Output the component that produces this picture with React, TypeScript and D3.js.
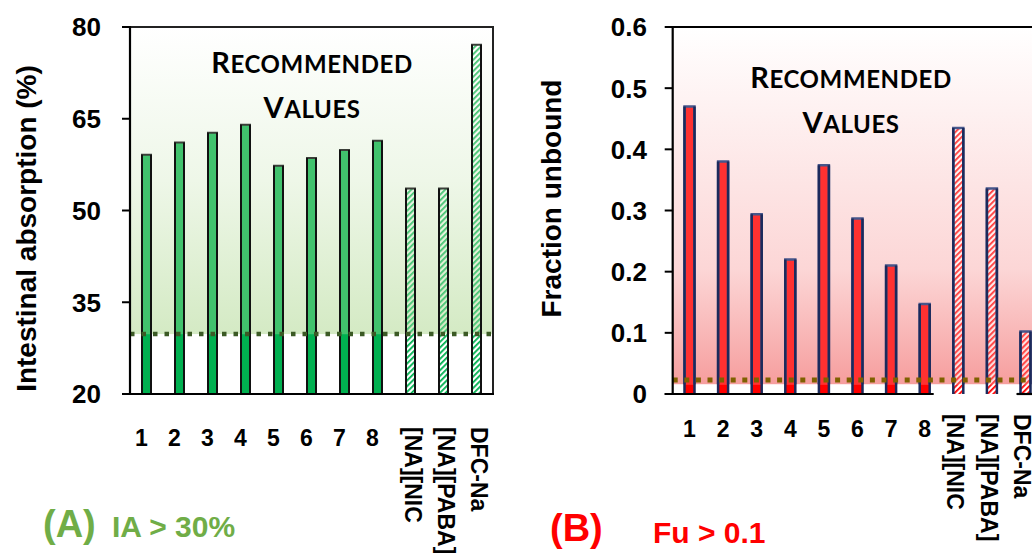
import React from 'react';
import * as d3 from 'd3';

const categories = ['1', '2', '3', '4', '5', '6', '7', '8', '[NA][NIC', '[NA][PABA]', 'DFC-Na'];
const referenceDrugs = ['[NA][NIC', '[NA][PABA]', 'DFC-Na'];
const iaValues = [59.1, 61.1, 62.7, 64.0, 57.3, 58.6, 59.9, 61.4, 53.6, 53.6, 77.1];
const fuValues = [0.47, 0.38, 0.294, 0.22, 0.374, 0.287, 0.21, 0.147, 0.435, 0.336, 0.102];
const iaTicks = [20, 35, 50, 65, 80];
const fuTicks = [0, 0.1, 0.2, 0.3, 0.4, 0.5, 0.6];
const iaThreshold = 29.8;
const fuThreshold = 0.023;
const fuBandBottom = 0.016;

const ARIAL = "'Liberation Sans', Arial, sans-serif";
const CAL = "Lato, 'Open Sans', sans-serif";

function Recommended({ cx, y1, y2 }: { cx: number; y1: number; y2: number }) {
  return (
    <g fontFamily={CAL} fontWeight={700} fill="#000" textAnchor="middle">
      <text x={cx} y={y1} letterSpacing={0.6}>
        <tspan fontSize={29}>R</tspan>
        <tspan fontSize={24}>ECOMMENDED</tspan>
      </text>
      <text x={cx} y={y2} letterSpacing={0.6}>
        <tspan fontSize={29}>V</tspan>
        <tspan fontSize={24}>ALUES</tspan>
      </text>
    </g>
  );
}

function BarOutline({ x, w, yTop, ySplit, yBase, upper, lower, sw }: any) {
  const top = Math.min(yTop, ySplit);
  return (
    <g fill="none" strokeWidth={sw}>
      {yTop < ySplit && (
        <path d={`M${x},${ySplit}V${yTop}H${x + w}V${ySplit}`} stroke={upper} strokeLinejoin="miter" />
      )}
      <path d={`M${x},${top}V${yBase}M${x + w},${top}V${yBase}`} stroke={lower} />
    </g>
  );
}

export default function App() {
  // Panel A
  const aLeft = 130, aRight = 493, aTop = 27, aBottom = 394;
  const xA = d3.scaleBand<string>().domain(categories).range([aLeft, aRight]).padding(0);
  const yA = d3.scaleLinear().domain([20, 80]).range([aBottom, aTop]);
  const bwA = 9;
  const yThrA = yA(iaThreshold);

  // Panel B
  const bLeft = 672.7, bTop = 27, bBottom = 394;
  const stepB = 33.6;
  const xB = d3.scaleBand<string>().domain(categories).range([bLeft, bLeft + stepB * categories.length]).padding(0);
  const yB = d3.scaleLinear().domain([0, 0.6]).range([bBottom, bTop]);
  const bwB = 10;
  const yRegB = yB(fuBandBottom);
  const yThrB = yB(fuThreshold);

  const isRef = (c: string) => referenceDrugs.includes(c);

  const bar8 = categories[7];
  const bar11 = categories[10];
  const axisSeg1End = (xB(bar8) as number) + xB.bandwidth() / 2 + bwB / 2 + 4;
  const axisSeg2Start = (xB(bar11) as number) + xB.bandwidth() / 2 - bwB / 2 - 4;

  return (
    <svg width={1032} height={553} style={{ position: 'absolute', left: 0, top: 0, display: 'block', background: '#fff' }}>
      <defs>
        <linearGradient id="gradA" x1="0" y1={aTop} x2="0" y2={yThrA} gradientUnits="userSpaceOnUse">
          <stop offset="0" stopColor="#ffffff" />
          <stop offset="0.5" stopColor="#eef7e8" />
          <stop offset="1" stopColor="#d4eac4" />
        </linearGradient>
        <linearGradient id="gradB" x1="0" y1={bTop} x2="0" y2={yRegB} gradientUnits="userSpaceOnUse">
          <stop offset="0" stopColor="#ffffff" />
          <stop offset="0.68" stopColor="#fcd6d6" />
          <stop offset="1" stopColor="#f69e9e" />
        </linearGradient>
        <pattern id="hatchAUp" width="4" height="4" patternUnits="userSpaceOnUse" patternTransform="rotate(45)">
          <rect x="0" y="0" width="1.8" height="4" fill="#45c474" />
        </pattern>
        <pattern id="hatchALo" width="4" height="4" patternUnits="userSpaceOnUse" patternTransform="rotate(45)">
          <rect x="0" y="0" width="4" height="4" fill="#ffffff" />
          <rect x="0" y="0" width="1.8" height="4" fill="#00b050" />
        </pattern>
        <pattern id="hatchBUp" width="4" height="4" patternUnits="userSpaceOnUse" patternTransform="rotate(45)">
          <rect x="0" y="0" width="4" height="4" fill="#ffffff" fillOpacity="0.6" />
          <rect x="0" y="0" width="1.8" height="4" fill="#ff3b3b" />
        </pattern>
        <pattern id="hatchBLo" width="4" height="4" patternUnits="userSpaceOnUse" patternTransform="rotate(45)">
          <rect x="0" y="0" width="4" height="4" fill="#ffffff" />
          <rect x="0" y="0" width="1.8" height="4" fill="#ff0000" />
        </pattern>
        <clipPath id="clipAll">
          <rect x={0} y={0} width={1032} height={553} />
        </clipPath>
      </defs>

      {/* ---------- Panel A ---------- */}
      <rect x={aLeft} y={aTop} width={aRight - aLeft} height={yThrA - aTop} fill="url(#gradA)" />

      {categories.map((c, i) => {
        const cx = (xA(c) as number) + xA.bandwidth() / 2;
        const x = cx - bwA / 2;
        const yt = yA(iaValues[i]);
        const ref = isRef(c);
        return (
          <g key={'a' + c}>
            <rect x={x} y={yt} width={bwA} height={yThrA - yt} fill={ref ? 'url(#hatchAUp)' : '#41c26d'} />
            <rect x={x} y={yThrA} width={bwA} height={aBottom - yThrA} fill={ref ? 'url(#hatchALo)' : '#00b050'} />
            <BarOutline x={x} w={bwA} yTop={yt} ySplit={yThrA} yBase={aBottom} upper="#3a3f38" lower="#111" sw={2} />
          </g>
        );
      })}

      <line x1={aLeft} x2={aRight} y1={yThrA} y2={yThrA} stroke="#3b5a25" strokeWidth={4.5} strokeDasharray="4.5 7" />

      {/* frame A */}
      <path d={`M${aLeft},${aTop}H${aRight}V${aBottom}`} fill="none" stroke="#222" strokeWidth={2} />
      <line x1={aLeft} x2={aLeft} y1={aTop - 1} y2={aBottom + 1} stroke="#000" strokeWidth={2.2} />
      <line x1={aLeft - 8} x2={aRight + 1} y1={aBottom} y2={aBottom} stroke="#000" strokeWidth={2.2} />
      {iaTicks.map((t) => (
        <g key={'ta' + t}>
          <line x1={aLeft - 8} x2={aLeft} y1={yA(t)} y2={yA(t)} stroke="#000" strokeWidth={2} />
          <text x={101} y={yA(t)} dy="0.36em" textAnchor="end" fontFamily={ARIAL} fontWeight={700} fontSize={26}>
            {t}
          </text>
        </g>
      ))}
      <text
        transform={`translate(36, ${(aTop + aBottom) / 2 + 18}) rotate(-90)`}
        textAnchor="middle"
        fontFamily={ARIAL}
        fontWeight={700}
        fontSize={28}
      >
        Intestinal absorption (%)
      </text>

      {categories.map((c) => {
        const cx = (xA(c) as number) + xA.bandwidth() / 2;
        if (isRef(c)) {
          return (
            <text
              key={'la' + c}
              transform={`translate(${cx + 3}, 427) rotate(90)`}
              dy="0.35em"
              textAnchor="start"
              fontFamily={ARIAL}
              fontWeight={700}
              fontSize={23}
            >
              {c}
            </text>
          );
        }
        return (
          <text key={'la' + c} x={cx - 5} y={446} textAnchor="middle" fontFamily={ARIAL} fontWeight={700} fontSize={23}>
            {c}
          </text>
        );
      })}

      <Recommended cx={312} y1={72.7} y2={118} />

      <text x={43} y={537} fontFamily={ARIAL} fontWeight={700} fontSize={38} fill="#70ad47">
        (A)
      </text>
      <text x={112} y={537} fontFamily={ARIAL} fontWeight={700} fontSize={30} fill="#70ad47">
        {'IA > 30%'}
      </text>

      {/* ---------- Panel B ---------- */}
      <g clipPath="url(#clipAll)">
        <rect x={bLeft} y={bTop} width={1032 - bLeft} height={yRegB - bTop} fill="url(#gradB)" />

        {categories.map((c, i) => {
          const cx = (xB(c) as number) + xB.bandwidth() / 2;
          const x = cx - bwB / 2;
          const yt = yB(fuValues[i]);
          const ref = isRef(c);
          return (
            <g key={'b' + c}>
              <rect x={x} y={yt} width={bwB} height={yRegB - yt} fill={ref ? 'url(#hatchBUp)' : '#ff3131'} />
              <rect x={x} y={yRegB} width={bwB} height={bBottom - yRegB} fill={ref ? 'url(#hatchBLo)' : '#ff0000'} />
              <BarOutline x={x} w={bwB} yTop={yt} ySplit={yRegB} yBase={bBottom} upper="#47568a" lower="#1b2a5c" sw={2.5} />
            </g>
          );
        })}

        <line x1={bLeft} x2={1032} y1={yThrB} y2={yThrB} stroke="#7f6000" strokeWidth={5} strokeDasharray="5 6.6" />

        <line x1={bLeft} x2={1040} y1={bTop} y2={bTop} stroke="#000" strokeWidth={2} />
        <line x1={bLeft} x2={bLeft} y1={bTop - 1} y2={bBottom + 1} stroke="#000" strokeWidth={2.2} />
        <line x1={bLeft - 8} x2={axisSeg1End} y1={bBottom} y2={bBottom} stroke="#000" strokeWidth={2.2} />
        <line x1={axisSeg2Start} x2={1040} y1={bBottom} y2={bBottom} stroke="#000" strokeWidth={2.2} />
        {fuTicks.map((t) => (
          <g key={'tb' + t}>
            <line x1={bLeft - 8} x2={bLeft} y1={yB(t)} y2={yB(t)} stroke="#000" strokeWidth={2} />
            <text x={647} y={yB(t)} dy="0.36em" textAnchor="end" fontFamily={ARIAL} fontWeight={700} fontSize={26}>
              {t === 0 ? '0' : d3.format('.1f')(t)}
            </text>
          </g>
        ))}
        <text
          transform={`translate(561, ${(bTop + bBottom) / 2 - 12}) rotate(-90)`}
          textAnchor="middle"
          fontFamily={ARIAL}
          fontWeight={700}
          fontSize={28}
        >
          Fraction unbound
        </text>

        {categories.map((c) => {
          const cx = (xB(c) as number) + xB.bandwidth() / 2;
          if (isRef(c)) {
            return (
              <text
                key={'lb' + c}
                transform={`translate(${cx - 3}, 414) rotate(90)`}
                dy="0.35em"
                textAnchor="start"
                fontFamily={ARIAL}
                fontWeight={700}
                fontSize={23}
              >
                {c}
              </text>
            );
          }
          return (
            <text key={'lb' + c} x={cx} y={437} textAnchor="middle" fontFamily={ARIAL} fontWeight={700} fontSize={23}>
              {c}
            </text>
          );
        })}

        <Recommended cx={851} y1={88} y2={133} />

        <text x={550} y={541} fontFamily={ARIAL} fontWeight={700} fontSize={38} fill="#ff0000">
          (B)
        </text>
        <text x={653} y={543} fontFamily={ARIAL} fontWeight={700} fontSize={30} fill="#ff0000">
          {'Fu > 0.1'}
        </text>
      </g>
    </svg>
  );
}
